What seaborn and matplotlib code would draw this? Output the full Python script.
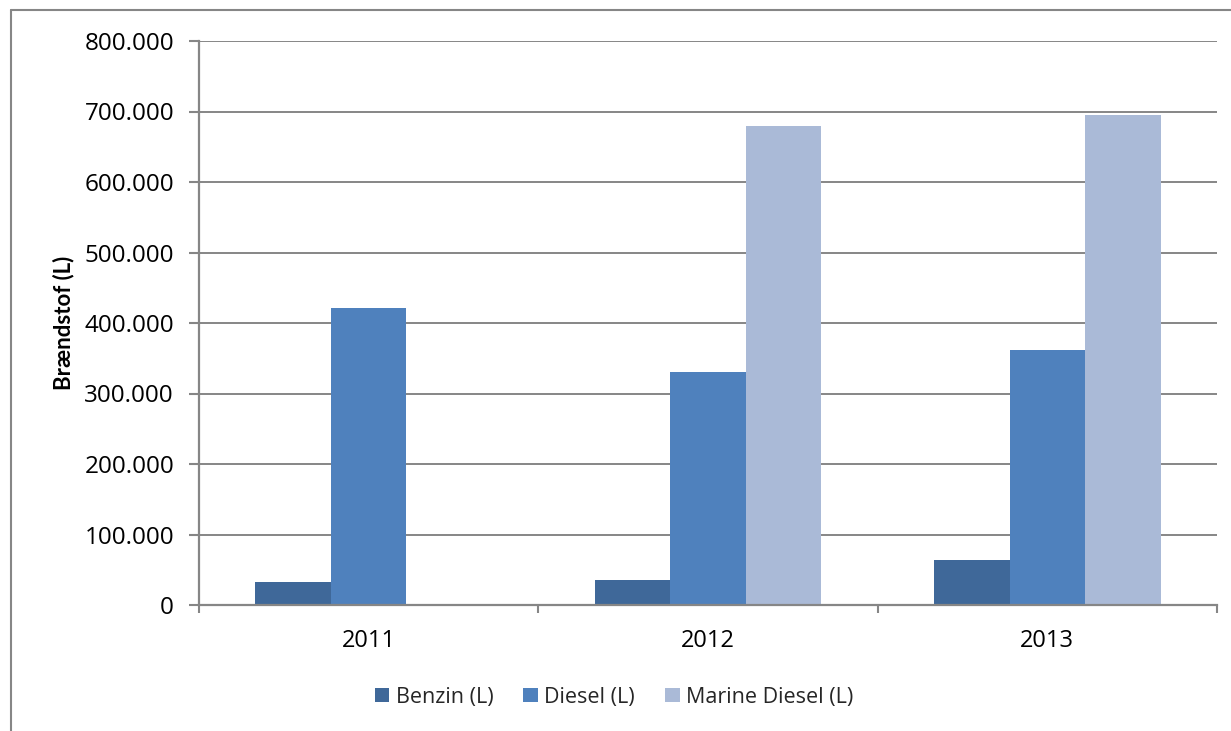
import matplotlib
matplotlib.use("Agg")
import matplotlib.pyplot as plt
import matplotlib.ticker as mticker
from matplotlib.lines import Line2D
import seaborn as sns
import pandas as pd

years = ["2011", "2012", "2013"]
series = ["Benzin (L)", "Diesel (L)", "Marine Diesel (L)"]
benzin = [32000, 35000, 64000]
diesel = [421000, 330000, 361000]
marine = [0, 680000, 695000]
y_ticks = [0, 100000, 200000, 300000, 400000, 500000, 600000, 700000, 800000]
y_label = "Brændstof (L)"
colors = ["#3F6899", "#4F81BD", "#AABAD7"]

rows = []
for name, vals in zip(series, [benzin, diesel, marine]):
    for yr, v in zip(years, vals):
        rows.append({"År": yr, "Serie": name, "Værdi": v})
df = pd.DataFrame(rows)

sns.set_theme(style="white")
plt.rcParams["font.family"] = ["Open Sans", "DejaVu Sans"]

W, H = 1231, 731
fig = plt.figure(figsize=(W / 100, H / 100), dpi=100)
ax = fig.add_axes([199 / W, 1 - 605 / H, (1217 - 199) / W, (605 - 41) / H])

sns.barplot(data=df, x="År", y="Værdi", hue="Serie", order=years,
            hue_order=series, palette=colors, width=0.667, gap=0,
            linewidth=0, saturation=1, errorbar=None, ax=ax)

grid_c = "#868686"
ax.set_xlim(-0.5, 2.5)
ax.set_ylim(0, 800000)
ax.set_yticks(y_ticks)
ax.yaxis.set_major_formatter(mticker.FuncFormatter(
    lambda v, p: f"{int(v):,}".replace(",", ".")))
ax.grid(axis="y", color=grid_c, linewidth=1.4)
ax.set_axisbelow(True)
for s in ["top", "right"]:
    ax.spines[s].set_visible(False)
for s in ["left", "bottom"]:
    ax.spines[s].set_color(grid_c)
    ax.spines[s].set_linewidth(1.6)

ax.set_xticks([-0.5, 0.5, 1.5, 2.5], minor=True)
ax.tick_params(axis="x", which="major", length=0, pad=17, labelsize=17,
               labelcolor="black")
ax.tick_params(axis="x", which="minor", length=6, width=1.5, color=grid_c,
               direction="out", bottom=True)
ax.tick_params(axis="y", length=7, width=1.5, color=grid_c, direction="out",
               left=True, pad=11, labelsize=17.5, labelcolor="black")

ax.set_xlabel("")
ax.set_ylabel(y_label, fontsize=16, fontweight="bold", color="black",
              labelpad=7, family=["Lato", "DejaVu Sans"])

ax.legend_.remove()
handles = [plt.Rectangle((0, 0), 1, 1, facecolor=c, edgecolor="none")
           for c in colors]
fig.legend(handles, series, loc="center", bbox_to_anchor=(614 / W, 1 - 697 / H),
           ncol=3, frameon=False, fontsize=15.5, handlelength=0.67,
           handleheight=0.67, handletextpad=0.3, columnspacing=1.4,
           borderpad=0)

# outer chart frame
fig.add_artist(Line2D([10.5 / W, 10.5 / W], [0, 1 - 9.5 / H], color=grid_c,
                      linewidth=1.5, transform=fig.transFigure))
fig.add_artist(Line2D([10.5 / W, 1], [1 - 9.5 / H, 1 - 9.5 / H], color=grid_c,
                      linewidth=1.5, transform=fig.transFigure))

fig.savefig("out.png", dpi=100)
